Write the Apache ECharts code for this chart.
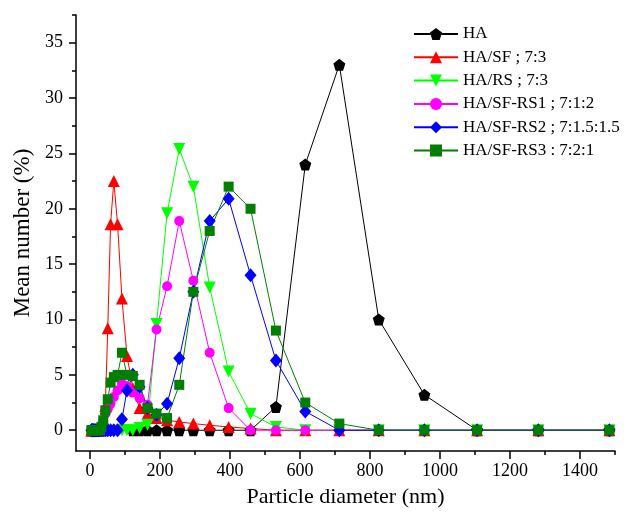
<!DOCTYPE html>
<html>
<head>
<meta charset="utf-8">
<title>Particle size distribution</title>
<script src="https://cdn.jsdelivr.net/npm/echarts@6/dist/echarts.min.js"></script>
<style>
  html, body { margin: 0; padding: 0; background: #ffffff; }
  #chart { width: 634px; height: 518px; }
</style>
</head>
<body>
<div id="chart"></div>
<script>
  // size bins (nm)
  const sizeBins = [4.187, 4.849, 5.615, 6.503, 7.531, 8.721, 10.1, 11.7, 13.54, 15.69,
    18.17, 21.04, 24.36, 28.21, 32.67, 37.84, 43.82, 50.75, 58.77, 68.06,
    78.82, 91.28, 105.7, 122.4, 141.8, 164.2, 190.1, 220.2, 255.0, 295.3,
    342.0, 396.1, 458.7, 531.2, 615.1, 712.4, 825.0, 955.4, 1106, 1281, 1484];

  // mean number (%) per bin, null = not plotted
  const haValues = [null, null, null, null, null, null, null, null, null, null,
    null, null, null, null, null, null, null, null, null, null,
    null, null, null, 0, 0, 0, 0, 0, 0, 0,
    0, 0, 0, 2.1, 24.0, 33.0, 10.0, 3.2, 0, 0, 0];
  const haSfValues = [0, 0, 0, 0, 0, 0, 0, 0, 0, 0,
    0, 0, 0, 0, 0, 1.0, 2.2, 9.2, 18.6, 22.5,
    18.6, 11.9, 6.7, 3.8, 2.0, 1.5, 1.1, 0.9, 0.75, 0.6,
    0.45, 0.3, 0.15, 0, 0, 0, 0, 0, 0, 0, 0];
  const haRsValues = [null, null, null, null, null, null, null, null, null, null,
    null, null, null, null, null, null, null, null, null, null,
    null, 0, 0, 0, 0.2, 0.5, 9.6, 19.6, 25.4, 22.0,
    12.9, 5.3, 1.5, 0.3, 0, 0, 0, 0, 0, 0, 0];
  const rs1Values = [0, 0, 0, 0, 0, 0, 0, 0, 0, 0,
    0, 0, 0, 0, 0.3, 0.8, 1.5, 1.9, 2.4, 3.0,
    3.6, 4.2, 4.0, 3.4, 2.9, 2.3, 9.1, 13.0, 18.9, 13.5,
    7.0, 2.0, 0, 0, 0, 0, 0, 0, 0, 0, 0];
  const rs2Values = [0, 0, 0, 0, 0, 0, 0, 0, 0, 0,
    0, 0, 0, 0, 0, 0, 0, 0, 0, 0,
    0, 1.0, 3.6, 5.0, 3.9, 2.0, 1.4, 2.4, 6.5, 12.5,
    18.9, 20.9, 14.0, 6.3, 1.7, 0, 0, 0, 0, 0, 0];
  const rs3Values = [0, 0, 0, 0, 0, 0, 0, 0, 0, 0,
    0, 0, 0, 0, 0.3, 0.9, 1.8, 2.8, 4.3, 4.8,
    5.0, 7.0, 5.0, 4.9, 4.1, 2.0, 1.5, 1.1, 4.1, 12.5,
    18.0, 22.0, 20.0, 9.0, 2.5, 0.6, 0, 0, 0, 0, 0];

  const seriesNames = ["HA", "HA/SF ; 7:3", "HA/RS ; 7:3", "HA/SF-RS1 ; 7:1:2",
    "HA/SF-RS2 ; 7:1.5:1.5", "HA/SF-RS3 : 7:2:1"];

  const xLabelTicks = [0, 200, 400, 600, 800, 1000, 1200, 1400];
  const xMinorTicks = [100, 300, 500, 700, 900, 1100, 1300, 1500];
  const yLabelTicks = [0, 5, 10, 15, 20, 25, 30, 35];
  const yMinorTicks = [2.5, 7.5, 12.5, 17.5, 22.5, 27.5, 32.5, 37.5];

  const pentagon = "path://M0,-10 L9.51,-3.09 L5.88,8.09 L-5.88,8.09 L-9.51,-3.09 Z";
  const fontFamily = "Liberation Serif";

  function toPairs(values) {
    const out = [];
    sizeBins.forEach(function (s, i) {
      if (values[i] !== null) out.push([s, values[i]]);
    });
    return out;
  }

  function makeSeries(name, values, color, symbol, size, rotate) {
    return {
      name: name,
      type: "line",
      xAxisIndex: 0,
      yAxisIndex: 0,
      data: toPairs(values),
      symbol: symbol,
      symbolSize: size,
      symbolRotate: rotate || 0,
      showAllSymbol: true,
      lineStyle: { color: color, width: 1 },
      itemStyle: { color: color },
      emphasis: { disabled: true },
    };
  }

  const gridBox = { left: 76, top: 15, right: 19, bottom: 67 };
  const axisColor = "#000000";

  let myChart = echarts.init(document.getElementById("chart"));
  myChart.setOption({
    animation: false,
    backgroundColor: "#ffffff",
    textStyle: { fontFamily: fontFamily, color: "#000000" },
    grid: [Object.assign({}, gridBox), Object.assign({}, gridBox)],
    legend: {
      data: seriesNames,
      orient: "vertical",
      left: 413,
      top: 25.5,
      padding: 0,
      itemWidth: 44,
      itemHeight: 15,
      itemGap: 6.3,
      textStyle: { fontFamily: fontFamily, fontSize: 17, lineHeight: 17, color: "#000000" },
    },
    xAxis: [
      {
        type: "value",
        gridIndex: 0,
        min: -40,
        max: 1500,
        name: "Particle diameter (nm)",
        nameLocation: "middle",
        nameGap: 35,
        nameTextStyle: { fontFamily: fontFamily, fontSize: 22, color: "#000000" },
        axisLine: { show: true, onZero: false, lineStyle: { color: axisColor, width: 1.5 } },
        axisTick: { show: true, length: 8, customValues: xLabelTicks, lineStyle: { color: axisColor, width: 1.5 } },
        axisLabel: {
          customValues: xLabelTicks,
          fontSize: 18,
          margin: 11,
          color: "#000000",
          fontFamily: fontFamily,
          formatter: function (v) { return String(v); },
        },
        splitLine: { show: false },
      },
      {
        type: "value",
        gridIndex: 1,
        min: -40,
        max: 1500,
        axisLine: { show: false, onZero: false },
        axisTick: { show: true, length: 4, customValues: xMinorTicks, lineStyle: { color: axisColor, width: 1.5 } },
        axisLabel: { show: false },
        splitLine: { show: false },
      },
    ],
    yAxis: [
      {
        type: "value",
        gridIndex: 0,
        min: -1.875,
        max: 37.5,
        name: "Mean number (%)",
        nameLocation: "middle",
        nameGap: 40,
        nameTextStyle: { fontFamily: fontFamily, fontSize: 23, color: "#000000" },
        axisLine: { show: true, onZero: false, lineStyle: { color: axisColor, width: 1.5 } },
        axisTick: { show: true, length: 7, customValues: yLabelTicks, lineStyle: { color: axisColor, width: 1.5 } },
        axisLabel: {
          customValues: yLabelTicks,
          fontSize: 18,
          margin: 13,
          color: "#000000",
          fontFamily: fontFamily,
          formatter: function (v) { return String(v); },
        },
        splitLine: { show: false },
      },
      {
        type: "value",
        gridIndex: 1,
        min: -1.875,
        max: 37.5,
        axisLine: { show: false, onZero: false },
        axisTick: { show: true, length: 4, customValues: yMinorTicks, lineStyle: { color: axisColor, width: 1.5 } },
        axisLabel: { show: false },
        splitLine: { show: false },
      },
    ],
    series: [
      makeSeries(seriesNames[0], haValues, "#000000", pentagon, 12),
      makeSeries(seriesNames[1], haSfValues, "#ff0000", "triangle", 12),
      makeSeries(seriesNames[2], haRsValues, "#00ff00", "triangle", 12, 180),
      makeSeries(seriesNames[3], rs1Values, "#ff00ff", "circle", 10),
      makeSeries(seriesNames[4], rs2Values, "#0000ff", "diamond", [12, 14]),
      makeSeries(seriesNames[5], rs3Values, "#007f00", "rect", 10),
    ],
  });
</script>
</body>
</html>
